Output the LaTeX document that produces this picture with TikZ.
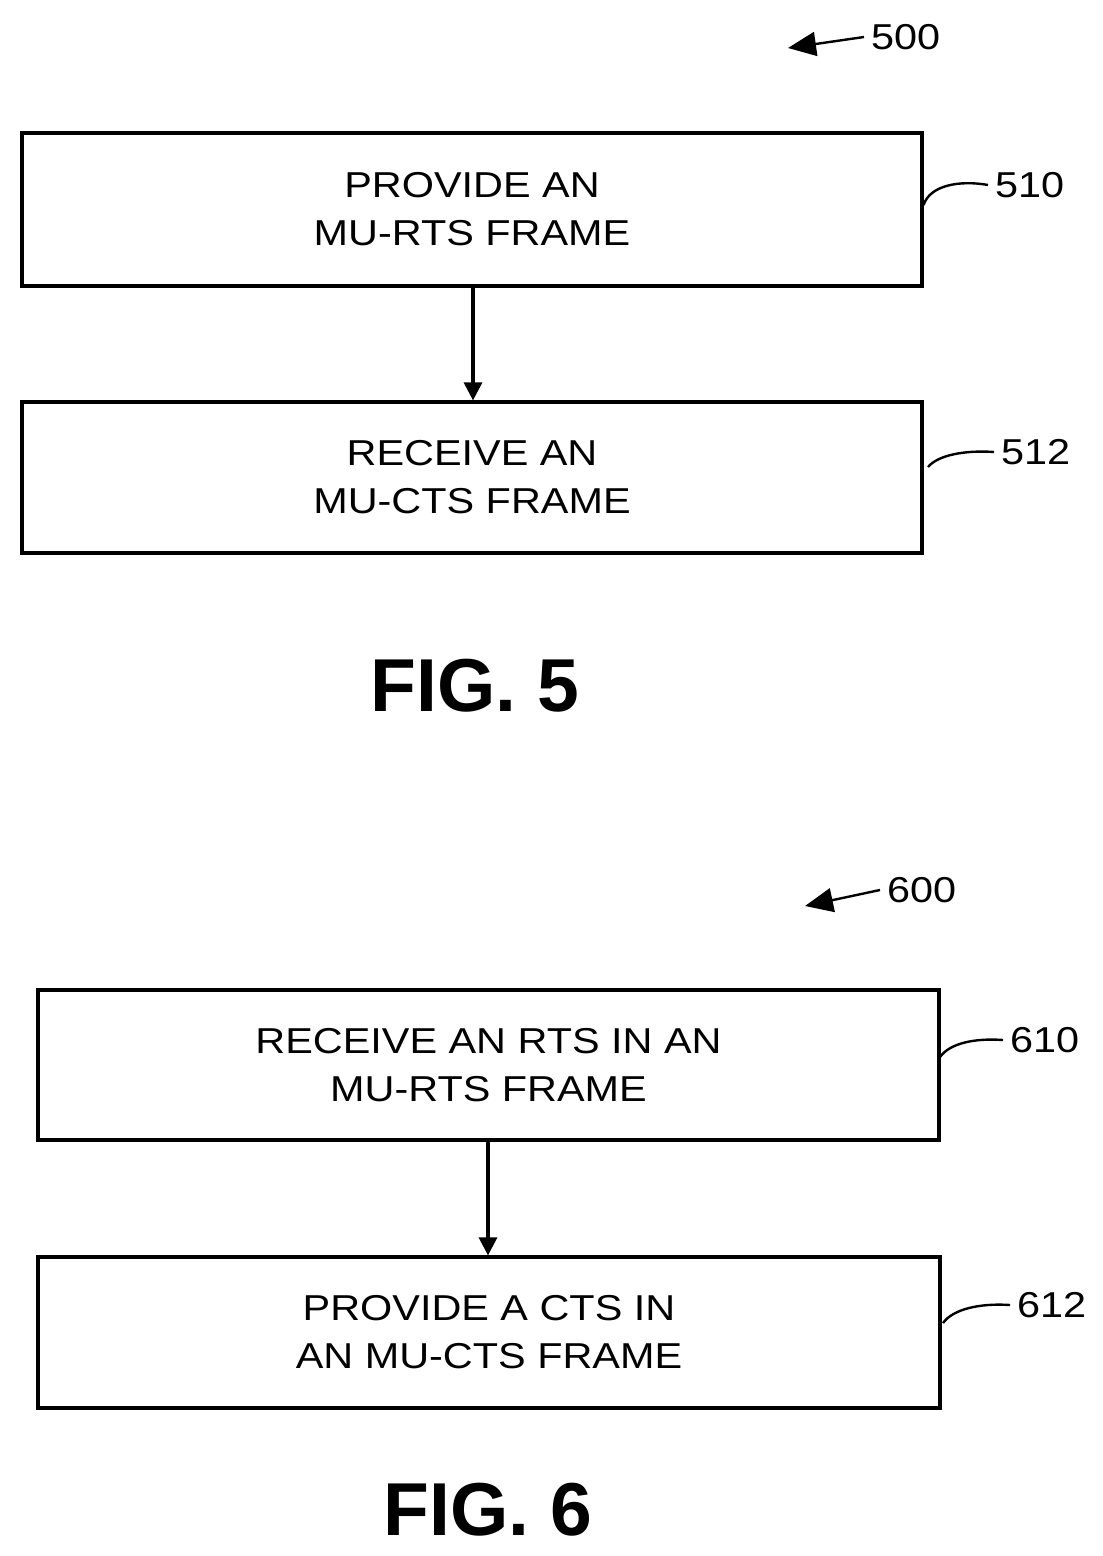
\documentclass[tikz,border=0pt]{standalone}
\usepackage{fontspec}
\setmainfont{Liberation Sans}[FakeStretch=1.15]
\newfontfamily\figfont{Liberation Sans}
\usetikzlibrary{arrows.meta}
\begin{document}
\begin{tikzpicture}[x=0.5pt,y=-0.5pt,
 box/.style={draw,line width=1.6pt,inner sep=0pt,align=center,font=\fontsize{18}{24}\selectfont},
 flow/.style={-{Triangle[length=9pt,width=9pt]},line width=1.6pt},
 lead/.style={line width=1.2pt},
 lab/.style={font=\fontsize{18}{20}\selectfont},
 fig/.style={font=\figfont\fontsize{37.5}{40}\selectfont\bfseries},
 ref/.style={-{Triangle[length=14pt,width=12pt]},line width=1.2pt}]
\useasboundingbox (0,0) rectangle (1102,1556);
% FIG 5
\node[box,minimum width=450pt,minimum height=76.5pt] (b510) at (472,209.5) {PROVIDE AN\\MU-RTS FRAME};
\node[box,minimum width=450pt,minimum height=75.5pt] (b512) at (472,477.5) {RECEIVE AN\\MU-CTS FRAME};
\draw[flow] (b510.south -| 473,0) -- (b512.north -| 473,0);
\node[lab,anchor=west] (l510) at (988,185) {510};
\node[lab,anchor=west] (l512) at (994,452) {512};
\draw[lead] (b510.east |- 0,205) .. controls (930,185) and (960,180) .. (l510.west);
\draw[lead] (928,467) .. controls (938,455) and (965,450) .. (l512.west);
\node[fig] (f5) at (475,686) {FIG. 5};
\node[lab,anchor=west] (l500) at (864,37) {500};
\coordinate (a500) at (788,48);
\draw[ref] (l500.west) -- (a500);
% FIG 6
\node[box,minimum width=450.5pt,minimum height=75pt] (b610) at (488.5,1065) {RECEIVE AN RTS IN AN\\MU-RTS FRAME};
\node[box,minimum width=451pt,minimum height=75.5pt] (b612) at (489,1332.5) {PROVIDE A CTS IN\\AN MU-CTS FRAME};
\draw[flow] (b610.south -| 488,0) -- (b612.north -| 488,0);
\node[lab,anchor=west] (l610) at (1003,1040) {610};
\node[lab,anchor=west] (l612) at (1010,1305) {612};
\draw[lead] (940,1057) .. controls (950,1043) and (975,1038) .. (l610.west);
\draw[lead] (943,1323) .. controls (953,1309) and (980,1303) .. (l612.west);
\node[fig] (f6) at (488,1510) {FIG. 6};
\node[lab,anchor=west] (l600) at (880,890) {600};
\coordinate (a600) at (805,906);
\draw[ref] (l600.west) -- (a600);
\end{tikzpicture}
\end{document}
